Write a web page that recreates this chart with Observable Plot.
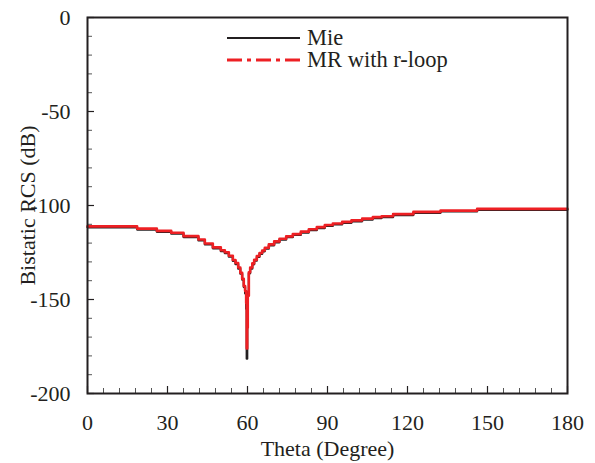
<!DOCTYPE html>
<html><head><meta charset="utf-8">
<script src="https://cdn.jsdelivr.net/npm/d3@7"></script>
<script src="https://cdn.jsdelivr.net/npm/@observablehq/plot@0.6"></script>
<style>body{margin:0;background:#fff} #chart{width:595px;height:463px} #chart svg text{font-family:"Liberation Serif","Times New Roman",serif}</style>
</head><body><div id="chart"></div>
<script>
const theta = [0, 18.6, 26, 31.4, 36, 41.6, 44, 47, 50, 51.5, 53, 54.5, 55.5, 56.5, 57.3, 58, 58.6, 59.1, 59.5, 59.7, 59.9, 60.1, 60.5, 61, 61.8, 62.5, 63.5, 64.5, 65.5, 66.5, 68, 70, 72, 74.5, 77, 80, 83, 86, 89, 92, 95.5, 99, 103, 107, 110.3, 114.6, 122.2, 132.4, 146.1, 180];
const mie = [-111.6, -112.8, -114.0, -115.0, -116.8, -118.6, -120.7, -122.8, -124.3, -125.4, -127.2, -129.5, -131.2, -133.6, -136.3, -139.5, -143.4, -146.8, -155, -181.5, -160, -146, -136.1, -133.6, -131.3, -129.4, -127.4, -125.8, -124.4, -123.0, -121.2, -119.6, -118.2, -116.9, -115.7, -114.4, -113.1, -112.0, -110.9, -110.1, -109.2, -108.4, -107.5, -106.7, -106.2, -105.1, -103.9, -103.2, -102.3, -102.3];
const mr = [-111.1, -112.3, -113.5, -114.5, -116.3, -118.1, -120.2, -122.3, -123.8, -124.9, -126.7, -129.0, -130.6, -133.0, -135.8, -139.0, -142.8, -145.5, -152, -176, -165, -148, -135.5, -133.0, -130.8, -128.9, -126.9, -125.3, -123.9, -122.5, -120.7, -119.1, -117.7, -116.4, -115.2, -113.9, -112.6, -111.5, -110.4, -109.6, -108.7, -107.9, -107.0, -106.2, -105.7, -104.6, -103.4, -102.7, -101.8, -101.8];
const xTicks = [0, 30, 60, 90, 120, 150, 180];
const xMinor = [6, 12, 18, 24, 36, 42, 48, 54, 66, 72, 78, 84, 96, 102, 108, 114, 126, 132, 138, 144, 156, 162, 168, 174];
const yTicks = [-200, -150, -100, -50, 0];
const yMinor = [-190, -180, -170, -160, -140, -130, -120, -110, -90, -80, -70, -60, -40, -30, -20, -10];
const seriesNames = ["Mie", "MR with r-loop"];
const xLabel = "Theta (Degree)";
const yLabel = "Bistatic RCS (dB)";

const rows = theta.map((t, i) => ({theta: t, mie: mie[i], mr: mr[i]}));
const W = 595, H = 463, mL = 87, mR = 28, mT = 17, mB = 70;
const pW = W - mL - mR, pH = H - mT - mB;
const font = "Liberation Serif, Times New Roman, serif";
const ink = "#231f20", red = "#ed2024";

const plot = Plot.plot({
  width: W, height: H,
  marginLeft: mL, marginRight: mR, marginTop: mT, marginBottom: mB,
  style: {fontFamily: font, fontSize: "22px", color: ink, background: "#fff"},
  x: {domain: [0, 180]},
  y: {domain: [-200, 0]},
  marks: [
    Plot.tickX(xMinor, {x: d => d, insetTop: pH - 5, stroke: "#555", strokeWidth: 1}),
    Plot.tickX(xTicks, {x: d => d, insetTop: pH - 7, stroke: ink, strokeWidth: 1.2}),
    Plot.tickY(yMinor, {y: d => d, insetRight: pW - 5, stroke: "#555", strokeWidth: 1}),
    Plot.tickY(yTicks, {y: d => d, insetRight: pW - 7, stroke: ink, strokeWidth: 1.2}),
    Plot.axisX({ticks: xTicks, tickSize: 0, tickPadding: 21, label: null, fontSize: 22, fontFamily: font, tickFormat: d => String(d)}),
    Plot.axisY({ticks: yTicks, tickSize: 0, tickPadding: 17, label: null, fontSize: 22, fontFamily: font, tickFormat: d => String(d)}),
    Plot.line(rows, {x: "theta", y: "mie", curve: "step-after", stroke: ink, strokeWidth: 2.2}),
    Plot.line(rows, {x: "theta", y: "mr", curve: "step-after", stroke: red, strokeWidth: 2.6}),
    Plot.frame({stroke: ink, strokeWidth: 2}),
    Plot.text([xLabel], {frameAnchor: "bottom", lineAnchor: "middle", textAnchor: "middle", dy: 55, fontSize: 22, fontFamily: font, fill: ink}),
    Plot.text([yLabel], {frameAnchor: "left", lineAnchor: "middle", textAnchor: "middle", dx: -60, rotate: -90, fontSize: 22, fontFamily: font, fill: ink})
  ]
});
document.getElementById("chart").appendChild(plot);

// legend
const svg = d3.select(plot);
const g = svg.append("g").attr("font-family", font).attr("font-size", 22.5).attr("fill", ink).attr("text-anchor", "start");
const legend = [
  {name: seriesNames[0], color: ink, width: 2, dash: null, y: 38},
  {name: seriesNames[1], color: red, width: 3, dash: "15,5,4,5", y: 60}
];
legend.forEach(l => {
  g.append("line").attr("x1", 227).attr("x2", 300).attr("y1", l.y).attr("y2", l.y)
    .attr("stroke", l.color).attr("stroke-width", l.width).attr("stroke-dasharray", l.dash);
  g.append("text").attr("x", 307).attr("y", l.y + 7).attr("text-anchor", "start").text(l.name);
});
</script>
</body></html>
